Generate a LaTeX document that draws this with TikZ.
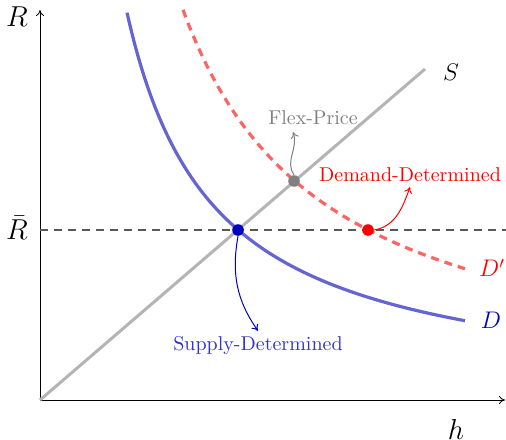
\documentclass[tikz,border=0pt]{standalone}
\usetikzlibrary{arrows.meta}
\definecolor{dcol}{RGB}{100,100,210}
\definecolor{dpcol}{RGB}{255,100,100}
\definecolor{scol}{RGB}{180,180,180}
\definecolor{sdcol}{RGB}{0,0,190}
\begin{document}
\begin{tikzpicture}[x=5pt,y=5pt,
  axis/.style={-{To[length=3pt,width=4pt]},black,line width=0.4pt},
  dotnode/.style={circle,inner sep=0pt,minimum size=5.8pt},
  lab/.style={font=\normalsize},
  pointer/.style={-{To[length=3pt,width=4pt]},line width=0.5pt}]
\useasboundingbox (-4,-3.9) rectangle (46.6,40);
% axes
\coordinate (O) at (0,0);
\coordinate (ytop) at (0,39);
\coordinate (xend) at (46.5,0);
\draw[axis] (O) -- (ytop);
\draw[axis] (O) -- (xend);
\node[font=\Large] (Rl) at (-2.3,38.3) {$R$};
\node[font=\Large] (Rbar) at (-2.3,17.2) {$\bar R$};
\node[font=\Large] (hl) at (41.6,-2.9) {$h$};
% Rbar dashed
\coordinate (rb0) at (0,17);
\coordinate (rb1) at (46.6,17);
\draw[black!65,line width=0.8pt,dash pattern=on 4pt off 3pt] (rb0) -- (rb1);
% S line
\coordinate (s1) at (38.5,33.1);
\draw[scol,line width=1.5pt] (O) -- (s1);
\node[font=\large] (Sl) at (41.1,32.8) {$S$};
% D curve
\draw[dcol,line width=1.6pt] plot[domain=8.7:42.5,samples=120] (\x,{337/\x});
\node[font=\large,text=sdcol] (Dl) at (45.1,8.0) {$D$};
% D' curve
\draw[dpcol,line width=1.6pt,dash pattern=on 4pt off 3pt] plot[domain=14.3:42.5,samples=120] (\x,{558/\x});
\node[font=\large,text=red] (Dpl) at (45.2,13.2) {$D'$};
% points
\node[dotnode,fill=sdcol] (bd) at (19.8,17) {};
\node[dotnode,fill=gray] (gd) at (25.4,21.9) {};
\node[dotnode,fill=red] (rd) at (32.8,17) {};
% labels
\node[lab,text=gray] (fp) at (27.3,28.2) {Flex-Price};
\node[lab,text=red] (dd) at (37.0,22.5) {Demand-Determined};
\node[lab,text=sdcol!80!white] (sd) at (21.8,5.5) {Supply-Determined};
\draw[pointer,gray] (gd.north) to[out=125,in=-70] ([xshift=-10pt,yshift=0pt]fp.south);
\draw[pointer,red] (rd.east) to[out=10,in=-110] ([yshift=1pt]dd.south);
\draw[pointer,sdcol] (bd.south) to[out=-100,in=125] ([yshift=-1pt]sd.north);
\end{tikzpicture}
\end{document}
